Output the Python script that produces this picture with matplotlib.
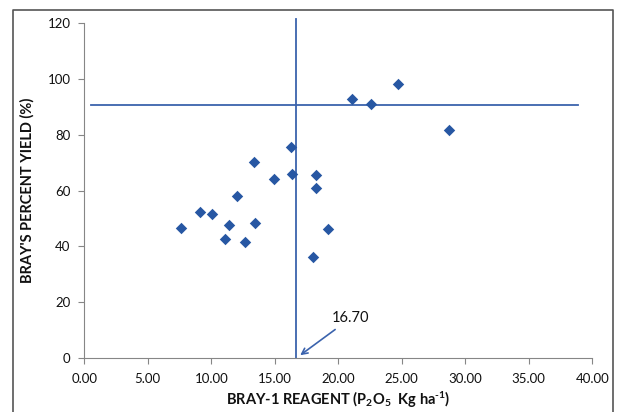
import matplotlib
matplotlib.use("Agg")
import matplotlib.pyplot as plt
from matplotlib.lines import Line2D

plt.rcParams['font.family'] = ['Lato', 'DejaVu Sans']
plt.rcParams['mathtext.fontset'] = 'custom'
plt.rcParams['mathtext.rm'] = 'Lato:bold'
plt.rcParams['mathtext.bf'] = 'Lato:bold'
plt.rcParams['mathtext.default'] = 'bf'

# Bray-1 reagent (P2O5 kg/ha) vs Bray's percent yield
p2o5 = [7.59, 9.11, 10.06, 11.06, 11.42, 12.05, 12.68, 13.39, 13.46, 14.91,
        16.25, 16.33, 18.22, 18.24, 19.21, 18.01, 21.06, 22.57, 24.70, 28.74]
yield_pct = [46.5, 52.2, 51.5, 42.7, 47.8, 58.2, 41.5, 70.4, 48.4, 64.2,
             75.7, 65.8, 65.6, 60.8, 46.3, 36.3, 92.8, 91.1, 98.1, 81.7]

critical_x = 16.70
critical_y = 90.7
hline_x = [0.5, 38.85]
vline_y = [0, 121.5]

x_ticks = [0, 5, 10, 15, 20, 25, 30, 35, 40]
y_ticks = [0, 20, 40, 60, 80, 100, 120]

line_col = '#3b63ad'
pt_col = '#2757a3'
grey = '#868686'

fig = plt.figure(figsize=(6.23, 4.12), dpi=100)
ax = fig.add_axes([0.1353, 0.1311, 0.8154, 0.8123])

ax.plot(hline_x, [critical_y, critical_y], color=line_col, lw=1.3, clip_on=False)
ax.plot([critical_x, critical_x], vline_y, color=line_col, lw=1.3, clip_on=False)
ax.scatter(p2o5, yield_pct, marker='D', s=34, color=pt_col, zorder=3, linewidths=0)

ax.annotate('16.70', xy=(critical_x + 0.3, 1.0), xytext=(19.5, 14.3),
            fontsize=10.5, color='#111111', va='center', ha='left',
            arrowprops=dict(arrowstyle='->', color=line_col, lw=1.2,
                            shrinkA=2, shrinkB=0))

ax.set_xlim(0, 40)
ax.set_ylim(0, 120)
ax.set_xticks(x_ticks)
ax.set_xticklabels(['%.2f' % v for v in x_ticks])
ax.set_yticks(y_ticks)

for s in ['top', 'right']:
    ax.spines[s].set_visible(False)
for s in ['left', 'bottom']:
    ax.spines[s].set_color(grey)
    ax.spines[s].set_linewidth(0.8)
ax.tick_params(axis='both', colors=grey, length=4, width=0.8, labelsize=9.5,
               labelcolor='#111111', direction='out')
ax.tick_params(axis='x', pad=7)
ax.tick_params(axis='y', pad=6)

ax.set_xlabel(r'BRAY-1 REAGENT (P$_2$O$_5$  Kg ha$^{\text{-}1}$)', fontsize=10.5,
              fontweight='bold', labelpad=3, color='#111111')
ax.set_ylabel("BRAY'S PERCENT YIELD (%)", fontsize=10.5, fontweight='bold',
              labelpad=9, color='#111111')

# outer chart frame
fx = [12.5 / 623, 12.5 / 623, 613 / 623, 613 / 623]
fy = [0, 1 - 10 / 412, 1 - 10 / 412, 0]
fig.add_artist(Line2D(fx, fy, color='#555555', lw=1.2, transform=fig.transFigure))

fig.savefig('out.png', dpi=100)
